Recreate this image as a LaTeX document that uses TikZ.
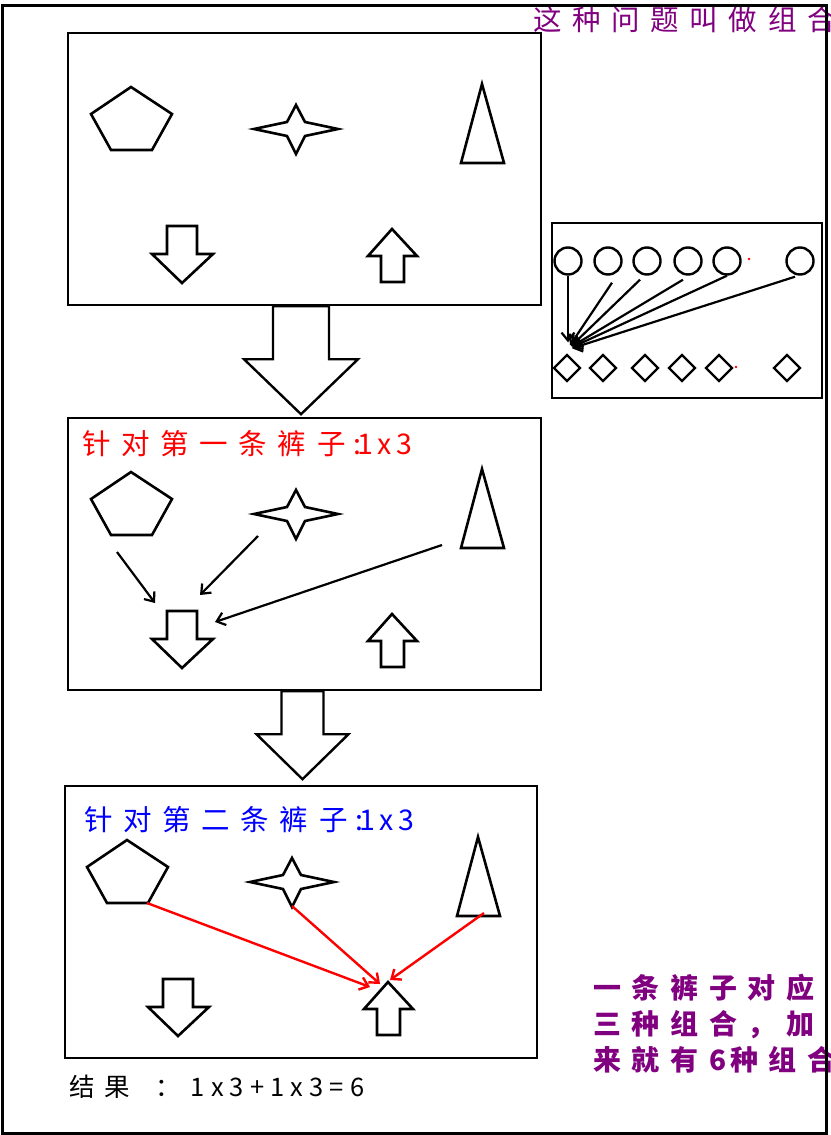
\documentclass[tikz,border=0pt]{standalone}
\usepackage{fontspec}
\newfontfamily\cjk[LetterSpace=15]{Noto Sans CJK SC}
\usetikzlibrary{shapes.geometric}
\usetikzlibrary{calc}
\usetikzlibrary{arrows.meta}

\definecolor{notepurple}{RGB}{128,0,128}

\tikzset{
  figline/.style={line width=2.6pt,line join=miter},
  panel/.style={draw,line width=2.4pt,inner sep=0pt},
  bigarrow/.style={line width=2.4pt,fill=white},
  pick/.style={-{Straight Barb[length=8pt,width=13pt]},line width=2.2pt},
  redpick/.style={-{Straight Barb[length=8pt,width=13pt]},line width=2.4pt,red},
  ball/.style={circle,draw,line width=2.4pt,minimum size=27pt,inner sep=0pt},
  gem/.style={diamond,draw,line width=2.4pt,minimum width=27pt,minimum height=27pt,inner sep=0pt},
  cjktext/.style={inner sep=0pt,font=\cjk\fontsize{28.5}{32}\selectfont}
}

% the five figures of one panel, #1 = prefix, #2 = shift
\newcommand{\shapeset}[2]{%
  \begin{scope}[shift={(#2)}]
    \coordinate (#1pent) at (131,118);
    \coordinate (#1star) at (296,129);
    \coordinate (#1cone) at (482,124);
    \coordinate (#1down) at (182,254);
    \coordinate (#1up) at (392,256);
    % pentagon
    \draw[figline] (131,87) -- (172,114) -- (152,150) -- (111,150) -- (91,114) -- cycle;
    % star
    \draw[figline] (296,105) -- (305,122) -- (338,129) -- (305,136) -- (296,154)
                   -- (287,136) -- (254,129) -- (287,122) -- cycle;
    % cone
    \draw[figline] (482,84) -- (504,163) -- (461,163) -- cycle;
    % down arrow
    \draw[figline] (167,226) -- (197,226) -- (197,254) -- (213,254) -- (182,283)
                   -- (152,254) -- (167,254) -- cycle;
    % up arrow
    \draw[figline] (392,229) -- (417,256) -- (404,256) -- (404,282) -- (381,282)
                   -- (381,256) -- (368,256) -- cycle;
  \end{scope}}

\begin{document}
\begin{tikzpicture}[x=1pt,y=-1pt]
	\useasboundingbox (0,0) rectangle (830,1135);

	% notes
	\node[cjktext,anchor=west,text=notepurple] (topnote) at (533,20) {这 种 问 题 叫 做 组 合};
	\node[inner sep=0pt,anchor=north west,align=left,text=notepurple,
	      font=\cjk\bfseries\fontsize{28}{36}\selectfont] (sidenote) at (593,974)
	      {一 条 裤 子 对 应\\三 种 组 合 ， 加\\来 就 有 6种 组 合};

	% outer frame
	\draw[line width=3pt] (2,5) rectangle (826,1133);

	% panels
	\node[panel,minimum width=473pt,minimum height=272pt] (box1) at (304.5,169) {};
	\node[panel,minimum width=473pt,minimum height=272pt] (box2) at (304.5,554) {};
	\node[panel,minimum width=472pt,minimum height=272pt] (box3) at (301,922) {};

	\shapeset{A}{0,0}
	\shapeset{B}{0,385}
	\shapeset{C}{-4,753}

	% big arrows between panels
	\draw[bigarrow,shift={($(box1.south)+(-3.5,0)$)}] (-28,0) -- (28,0) -- (28,53) -- (57,53)
	      -- (0,108) -- (-57,53) -- (-28,53) -- cycle;
	\draw[bigarrow,shift={($(box2.south)+(-2,0)$)}] (-21,0) -- (21,0) -- (21,43) -- (46,43)
	      -- (0,88) -- (-46,43) -- (-21,43) -- cycle;

	% first pair
	\node[cjktext,anchor=west,text=red] (title2) at (82,444) {针 对 第 一 条 裤 子\kern8pt :\kern-4pt 1x3};
	\draw[pick] ($(Bpent)+(-14,49)$) -- ($(Bdown)+(-27,-36)$);
	\draw[pick] ($(Bstar)+(-38,22)$) -- ($(Bdown)+(18,-44)$);
	\draw[pick] ($(Bcone)+(-40,36)$) -- ($(Bdown)+(33,-17)$);

	% second pair
	\node[cjktext,anchor=west,text=blue] (title3) at (84,820) {针 对 第 二 条 裤 子\kern8pt :\kern-4pt 1x3};
	\draw[redpick] ($(Cpent)+(20,32)$) -- ($(Cup)+(-18,-22)$);
	\draw[redpick] ($(Cstar)+(0,24)$) -- ($(Cup)+(-8,-25)$);
	\draw[redpick] ($(Ccone)+(6,36)$) -- ($(Cup)+(2,-29)$);

	% result
	\node[inner sep=0pt,anchor=west,font=\cjk\fontsize{25.5}{30}\selectfont] (result) at (69,1087)
	      {结 果\kern26pt ： \addfontfeature{LetterSpace=24}1x3+1x3=6};

	% side panel
	\draw[line width=2.4pt] (552,223) rectangle (822,398);
	\foreach \i/\x in {1/568,2/608,3/647,4/688,5/727,6/800}
		\node[ball] (c\i) at (\x,261) {};
	\foreach \i/\x in {1/567,2/603,3/645,4/682,5/719,6/787}
		\node[gem] (d\i) at (\x,368) {};
	\fill[red] (749,259) circle (1.3);
	\fill[red] (736,367) circle (1.3);

	\draw[pick] (c1.south) -- ($(d1.north)+(1,-11)$);
	\draw[pick] ($(c2.south)+(4,7)$) -- ($(d1.north)+(3,-8)$);
	\draw[pick] ($(c3.south)+(-7,4)$) -- ($(d1.north)+(4,-7)$);
	\draw[pick] ($(c4.south)+(-5,4)$) -- ($(d1.north)+(5,-7)$);
	\draw[pick] (c5.south) -- ($(d1.north)+(5,-6)$);
	\draw[pick] ($(c6.south)+(-5,1)$) -- ($(d1.north)+(5,-5)$);
\end{tikzpicture}
\end{document}
